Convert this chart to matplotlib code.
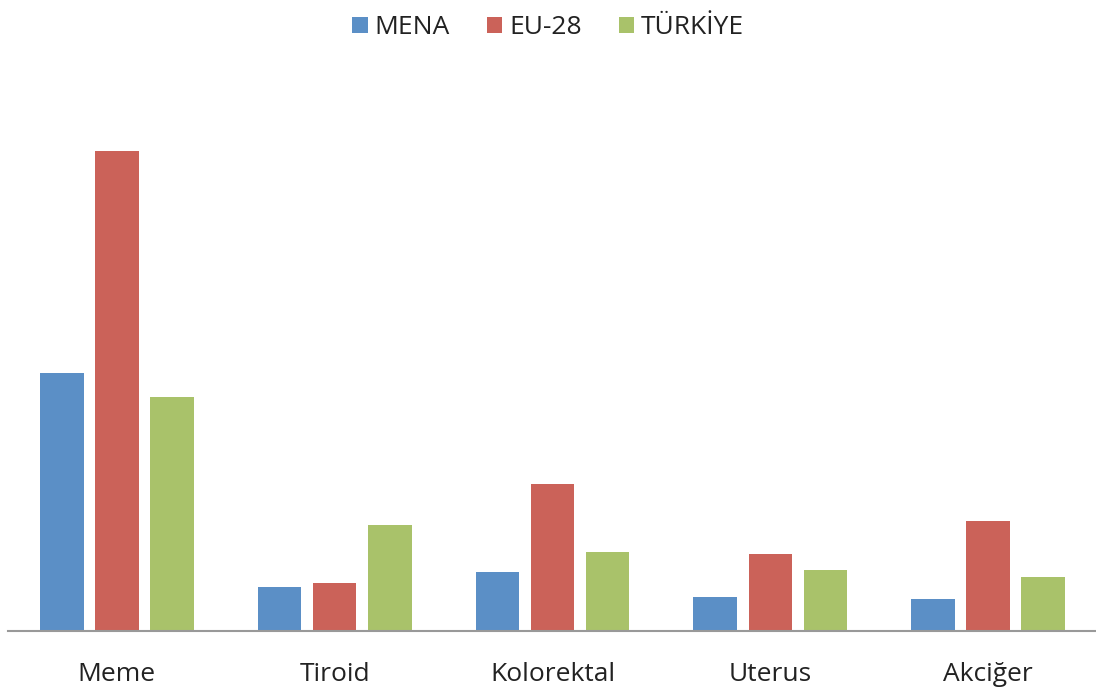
import matplotlib.pyplot as plt
import numpy as np

# veriler (görselden okunmuş tahmini değerler)
categories = ['Meme', 'Tiroid', 'Kolorektal', 'Uterus', 'Akciğer']
series_names = ['MENA', 'EU-28', 'TÜRKİYE']
mena = [53.8, 9.2, 12.3, 7.1, 6.7]
eu28 = [100.0, 10.0, 30.6, 16.0, 22.9]
turkiye = [48.8, 22.1, 16.5, 12.7, 11.3]

colors = ['#5B8FC6', '#CB6259', '#A9C26A']

plt.rcParams['font.family'] = ['Open Sans', 'DejaVu Sans']

fig = plt.figure(figsize=(10.96, 6.96), dpi=100)
ax = fig.add_axes([8 / 1096, 65 / 696, 1089 / 1096, 531 / 696])

x = np.arange(len(categories))
width = 0.2
step = 0.253
for i, (name, vals) in enumerate(zip(series_names, [mena, eu28, turkiye])):
    ax.bar(x + (i - 1) * step, vals, width, color=colors[i], label=name)

ax.set_xlim(-0.5, len(categories) - 0.5)
ax.set_ylim(0, 110.6)
ax.set_xticks(x)
ax.set_xticklabels(categories, fontsize=19, color='#222222')
ax.tick_params(axis='x', length=0, pad=22)
ax.set_yticks([])
for side in ['top', 'right', 'left']:
    ax.spines[side].set_visible(False)
ax.spines['bottom'].set_color('#999999')
ax.spines['bottom'].set_linewidth(1.5)

fig.legend(loc='upper center', bbox_to_anchor=(0.5, 1.012), ncol=3, frameon=False,
           fontsize=19, handlelength=0.6, handleheight=0.6, handletextpad=0.25,
           columnspacing=1.4, labelcolor='#222222')

plt.savefig('out.png', dpi=100)
